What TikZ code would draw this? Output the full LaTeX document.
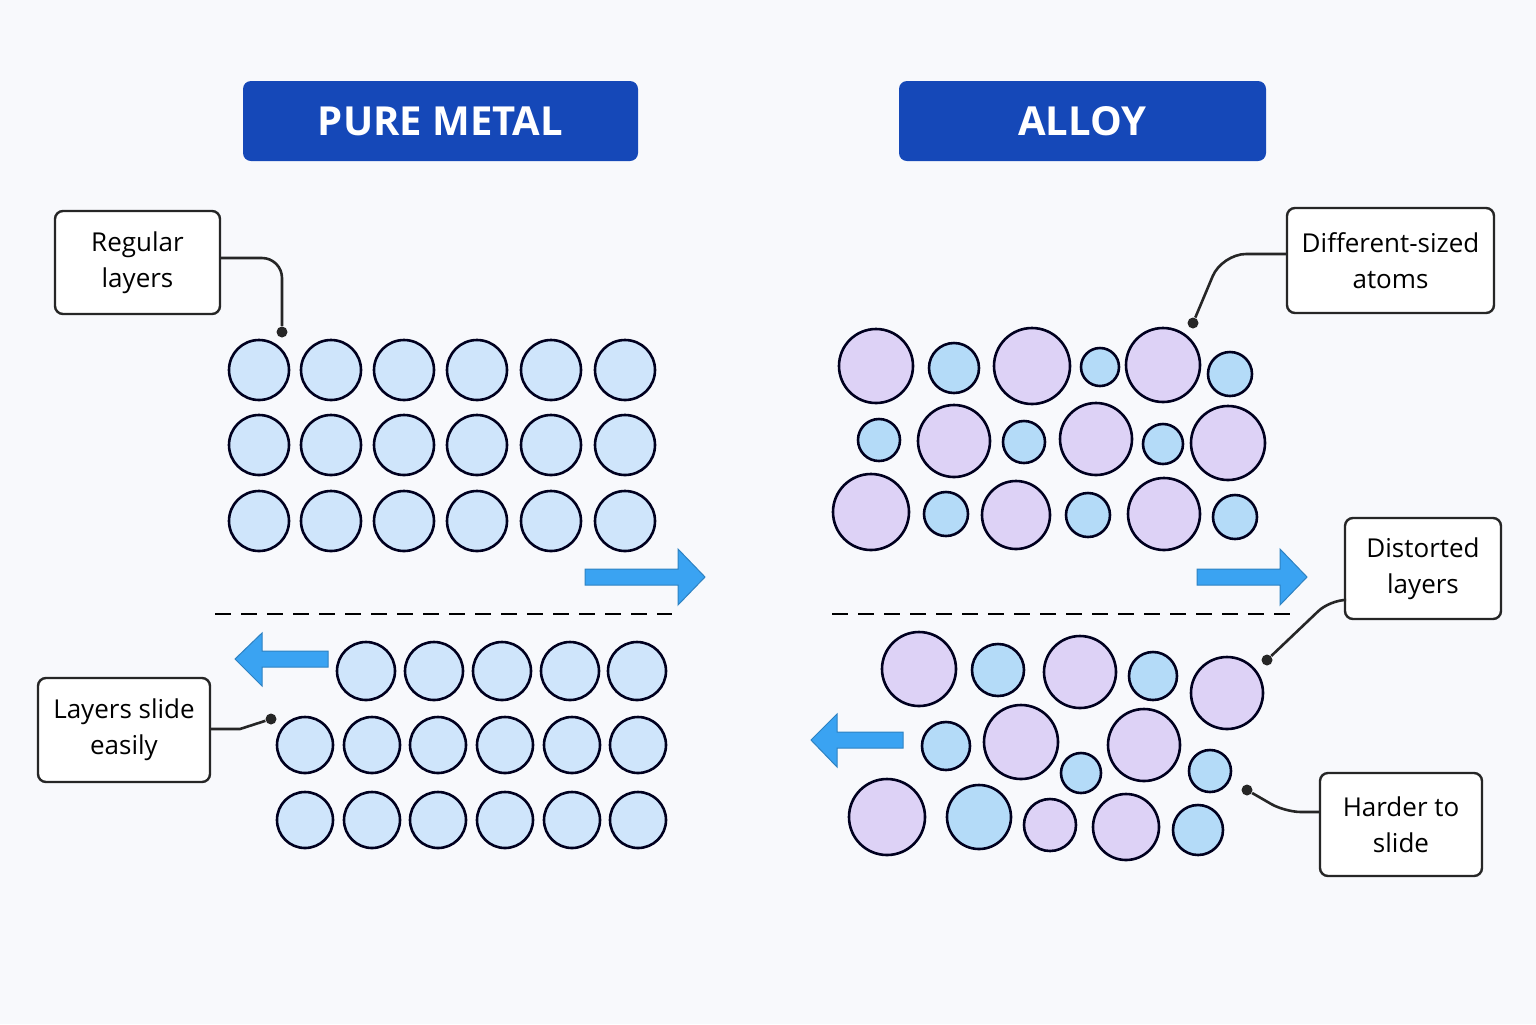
\documentclass[tikz,border=0pt]{standalone}
\usepackage{fontspec}
\setmainfont{Open Sans}
\begin{document}
\begin{tikzpicture}[x=0.5pt,y=-0.5pt,
 ed/.style={draw=black!80!blue!60!black,line width=1.3pt},
 pa/.style={ed,fill=pb},
 P/.style={ed,fill=pp},
 B/.style={ed,fill=ab},
 title/.style={fill=tb,rounded corners=4pt,text=white,font=\bfseries\fontsize{20}{24}\selectfont},
 lab/.style={draw=black!85,line width=1.2pt,rounded corners=4pt,fill=white,align=center,font=\fontsize{13}{18}\selectfont},
 con/.style={draw=black!85,line width=1.3pt},
 dot/.style={circle,fill=black!85,inner sep=0pt,minimum size=5.5pt},
 arr/.style={fill=ar,draw=ar!80!black,line width=0.5pt},
 sep/.style={line width=1.1pt,dash pattern=on 8pt off 5pt}]
\definecolor{pb}{HTML}{CFE5FB}\definecolor{pp}{HTML}{DDD2F6}\definecolor{ab}{HTML}{B4DBF8}
\definecolor{tb}{HTML}{1548B8}\definecolor{ar}{HTML}{3AA3F2}\definecolor{bg}{HTML}{F8F9FC}
\fill[bg] (0,0) rectangle (1536,1024);
\useasboundingbox (0,0) rectangle (1536,1024);
\node[title,minimum width=197.5pt,minimum height=40pt] (t1) at (440.5,121) {PURE METAL};
\node[title,minimum width=183.5pt,minimum height=40pt] (t2) at (1082.5,121) {ALLOY};
% pure metal
\foreach \y in {370,445,521}{\foreach \x in {259,331,404,477,551,625}{\draw[pa] (\x,\y) circle (30);}}
\foreach \x in {366,434,502,570,637}{\draw[pa] (\x,671) circle (29);}
\foreach \y in {745,820}{\foreach \x in {305,372,438,505,572,638}{\draw[pa] (\x,\y) circle (28);}}
\draw[sep] (215,614) -- (672,614);
\draw[sep] (832,614) -- (1295,614);
% arrows
\draw[arr] (585,569)--(678,569)--(678,549)--(705,577)--(678,605)--(678,585)--(585,585)--cycle;
\draw[arr] (328,651)--(262,651)--(262,633)--(235,659)--(262,686)--(262,667)--(328,667)--cycle;
\draw[arr] (1197,569)--(1280,569)--(1280,549)--(1307,577)--(1280,605)--(1280,585)--(1197,585)--cycle;
\draw[arr] (903,732)--(837,732)--(837,714)--(811,740)--(837,767)--(837,748)--(903,748)--cycle;
% alloy
\foreach \x/\y/\r/\c in {876/366/37/P,954/368/25/B,1032/366/38/P,1100/367/19/B,1163/365/37/P,1230/374/22/B,
879/440/21/B,954/441/36/P,1024/442/21/B,1096/439/36/P,1163/444/20/B,1228/443/37/P,
871/512/38/P,946/514/22/B,1016/515/34/P,1088/515/22/B,1164/514/36/P,1235/517/22/B,
919/669/37/P,998/670/26/B,1080/672/36/P,1153/676/24/B,1227/693/36/P,
946/746/24/B,1021/742/37/P,1081/773/20/B,1144/745/36/P,1210/771/21/B,
887/817/38/P,979/817/32/B,1050/825/26/P,1126/827/33/P,1198/830/25/B}{\draw[\c] (\x,\y) circle (\r);}
% labels
\node[lab,minimum width=82.5pt,minimum height=51.5pt] (l1) at (137.5,262.5) {Regular\\layers};
\node[lab,minimum width=86pt,minimum height=52pt] (l2) at (124,730) {Layers slide\\easily};
\node[lab,minimum width=103.5pt,minimum height=52.5pt] (l3) at (1390.5,260.5) {Different-sized\\atoms};
\node[lab,minimum width=78pt,minimum height=50.5pt] (l4) at (1423,568.5) {Distorted\\layers};
\node[lab,minimum width=81pt,minimum height=51.5pt] (l5) at (1401,824.5) {Harder to\\slide};
\node[dot] (d1) at (282,332) {};
\node[dot] (d2) at (271,719) {};
\node[dot] (d3) at (1193,323) {};
\node[dot] (d4) at (1267,660) {};
\node[dot] (d5) at (1247,790) {};
\draw[con,rounded corners=10pt] (l1.east|-0,258) -- (282,258) -- (d1);
\draw[con] (l2.east|-0,729) -- (240,729) -- (d2);
\draw[con,rounded corners=12pt] (l3.west|-0,254) -- (1222,254) -- (d3);
\draw[con,rounded corners=8pt] (l4.west|-0,600) -- (1330,600) -- (d4);
\draw[con,rounded corners=8pt] (l5.west|-0,812) -- (1285,812) -- (d5);
\end{tikzpicture}
\end{document}
